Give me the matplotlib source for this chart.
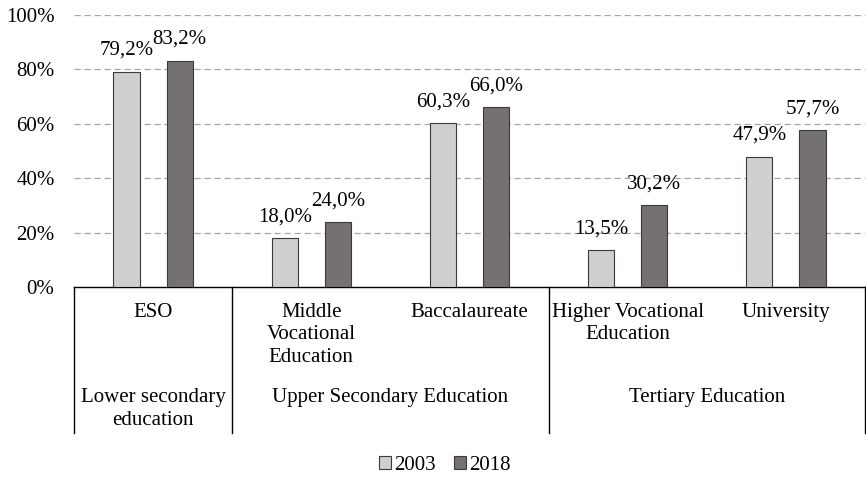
import matplotlib.pyplot as plt
from matplotlib.patches import Patch

plt.rcParams['font.family'] = ['Liberation Serif', 'DejaVu Serif']

categories = ['ESO', 'Middle\nVocational\nEducation', 'Baccalaureate',
              'Higher Vocational\nEducation', 'University']
groups = ['Lower secondary\neducation', 'Upper Secondary Education', 'Tertiary Education']
group_span = [(0, 0), (1, 2), (3, 4)]
years = ['2003', '2018']
v2003 = [79.2, 18.0, 60.3, 13.5, 47.9]
v2018 = [83.2, 24.0, 66.0, 30.2, 57.7]
yticks = [0, 20, 40, 60, 80, 100]

c_light = '#d0cece'
c_dark = '#767171'
fs = 15

fig = plt.figure(figsize=(8.66, 4.78), dpi=100)
ax = fig.add_axes([74 / 866, 1 - 287 / 478, 791 / 866, 272 / 478])

x = list(range(len(categories)))
w = 0.165
off = 0.168
b1 = ax.bar([i - off for i in x], v2003, w, color=c_light, edgecolor='#3a3a3a', linewidth=0.8, zorder=3)
b2 = ax.bar([i + off for i in x], v2018, w, color=c_dark, edgecolor='#3a3a3a', linewidth=0.8, zorder=3)

for bars, vals in ((b1, v2003), (b2, v2018)):
    for b, v in zip(bars, vals):
        ax.annotate(f'{v:.1f}%'.replace('.', ','), (b.get_x() + b.get_width() / 2, v),
                    xytext=(0, 12), textcoords='offset points', ha='center', va='baseline',
                    fontsize=fs, zorder=4)

ax.set_xlim(-0.5, len(categories) - 0.5)
ax.set_ylim(0, 100)
ax.set_yticks(yticks)
ax.set_yticklabels([f'{t}%' for t in yticks], fontsize=fs)
ax.tick_params(axis='y', length=0, pad=14)
ax.set_xticks([])
for t in yticks[1:]:
    ax.axhline(t, color='#a6a6a6', linestyle=(0, (5, 3)), linewidth=0.9, zorder=1)

for s in ('top', 'right', 'left'):
    ax.spines[s].set_visible(False)
ax.spines['bottom'].set_color('black')
ax.spines['bottom'].set_linewidth(1.0)

trans = ax.get_xaxis_transform()
for i, c in enumerate(categories):
    ax.text(i, -0.058, c, transform=trans, ha='center', va='top', fontsize=fs, linespacing=1.25)
for g, (a, b) in zip(groups, group_span):
    ax.text((a + b) / 2, -0.372, g, transform=trans, ha='center', va='top', fontsize=fs, linespacing=1.25)

for xb in [-0.5, 0.5, 2.5, 4.5]:
    ax.plot([xb, xb], [0, -0.537], transform=trans, color='black', linewidth=1.0, clip_on=False)

handles = [Patch(facecolor=c_light, edgecolor='#3a3a3a', linewidth=0.8),
           Patch(facecolor=c_dark, edgecolor='#3a3a3a', linewidth=0.8)]
fig.legend(handles, years, loc='lower center', bbox_to_anchor=(445 / 866, -0.015), ncol=2,
           frameon=False, fontsize=fs, handlelength=0.55, handleheight=0.55,
           handletextpad=0.15, columnspacing=0.9, borderpad=0)

fig.savefig('out.png', dpi=100)
